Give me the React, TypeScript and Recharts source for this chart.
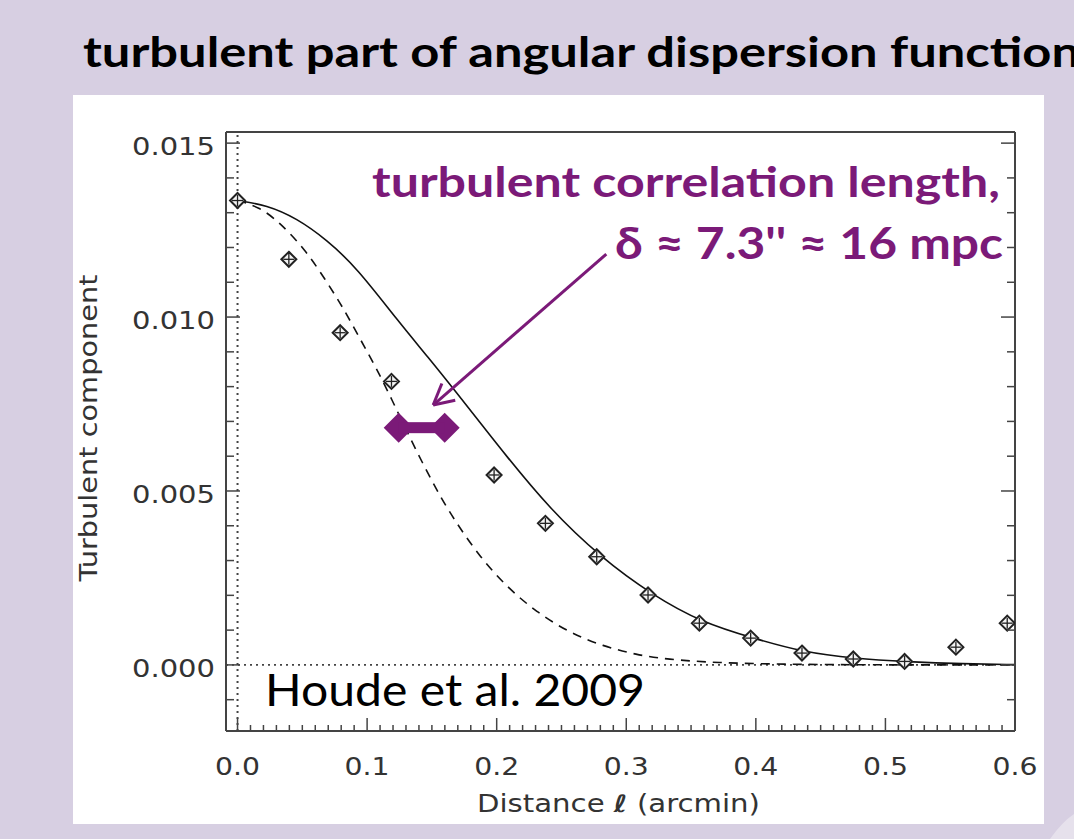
import React from "react";
import {
  ComposedChart,
  Line,
  Scatter,
  XAxis,
  YAxis,
  ReferenceLine,
  ReferenceDot,
} from "recharts";

// measured points (diamonds)
const pointX = [0, 0.0396, 0.0792, 0.1188, 0.198, 0.2376, 0.2772, 0.3168, 0.3564, 0.396, 0.4356, 0.4752, 0.5148, 0.5544, 0.594];
const pointY = [0.01335, 0.01166, 0.00955, 0.00815, 0.00546, 0.00407, 0.00311, 0.00201, 0.0012, 0.00077, 0.00034, 0.00017, 0.0001, 0.00051, 0.0012];

// solid curve (fit)
const fitX = [0, 0.0225, 0.0457, 0.0689, 0.092, 0.124, 0.147, 0.17, 0.189, 0.205, 0.241, 0.28, 0.32, 0.359, 0.398, 0.436, 0.476, 0.517, 0.56, 0.6];
const fitY = [0.01335, 0.01322, 0.01284, 0.01222, 0.01142, 0.00988, 0.00885, 0.00778, 0.00688, 0.00612, 0.00448, 0.0031, 0.00201, 0.00121, 0.00077, 0.00037, 0.00018, 0.00009, 0.00003, 0.00001];

// dashed curve (beam)
const beamX = [0, 0.0165, 0.032, 0.0525, 0.068, 0.081, 0.0937, 0.1066, 0.1194, 0.132, 0.1533, 0.169, 0.187, 0.2075, 0.2306, 0.2564, 0.282, 0.308, 0.331, 0.37, 0.42, 0.48, 0.6];
const beamY = [0.01335, 0.01317, 0.01274, 0.01193, 0.01106, 0.0103, 0.00943, 0.00857, 0.00761, 0.0066, 0.00503, 0.00407, 0.00311, 0.00225, 0.00152, 0.00092, 0.00054, 0.00029, 0.00016, 0.00006, 0.00002, 0, 0];

const xMajorTicks = [0, 0.1, 0.2, 0.3, 0.4, 0.5, 0.6];
const xTickLabels = ["0.0", "0.1", "0.2", "0.3", "0.4", "0.5", "0.6"];
const yMajorTicks = [0, 0.005, 0.01, 0.015];
const yTickLabels = ["0.000", "0.005", "0.010", "0.015"];

// minor tick positions
const xTicks = Array.from({ length: 61 }, (_, i) => i / 100);
const yTicks = Array.from({ length: 17 }, (_, i) => (i - 1) / 1000);

const points = pointX.map((x, i) => ({ x, y: pointY[i] }));
const fit = fitX.map((x, i) => ({ x, y: fitY[i] }));
const beam = beamX.map((x, i) => ({ x, y: beamY[i] }));

const FRAME = "#444";
const INK = "#111";
const PURPLE = "#7b1a78";
const LAVENDER = "#d7cfe2";
const TICK_FONT = "'DejaVu Sans', sans-serif";
const SLIDE_FONT = "Lato, 'Open Sans', sans-serif";

const majorIndex = (list: number[], v: number) =>
  list.findIndex((m) => Math.abs(m - v) < 1e-9);

const BottomTick = (p: any) => {
  const idx = majorIndex(xMajorTicks, p.payload.value);
  const len = idx >= 0 ? 13 : 6;
  return (
    <g>
      <line x1={p.x} x2={p.x} y1={p.y} y2={p.y - len} stroke={FRAME} strokeWidth={1.5} />
      {idx >= 0 && (
        <text x={p.x} y={p.y + 44} textAnchor="middle" fontFamily={TICK_FONT} fontSize={24} fill="#333" textLength={45} lengthAdjust="spacingAndGlyphs">
          {xTickLabels[idx]}
        </text>
      )}
    </g>
  );
};

const TopTick = (p: any) => {
  const idx = majorIndex(xMajorTicks, p.payload.value);
  const len = idx >= 0 ? 13 : 6;
  return <line x1={p.x} x2={p.x} y1={p.y} y2={p.y + len} stroke={FRAME} strokeWidth={1.5} />;
};

const LeftTick = (p: any) => {
  const idx = majorIndex(yMajorTicks, p.payload.value);
  const len = idx >= 0 ? 14 : 8;
  return (
    <g>
      <line x1={p.x} x2={p.x + len} y1={p.y} y2={p.y} stroke={FRAME} strokeWidth={1.5} />
      {idx >= 0 && (
        <text x={p.x - 11} y={p.y + 12} textAnchor="end" fontFamily={TICK_FONT} fontSize={24} fill="#333" textLength={83} lengthAdjust="spacingAndGlyphs">
          {yTickLabels[idx]}
        </text>
      )}
    </g>
  );
};

const RightTick = (p: any) => {
  const idx = majorIndex(yMajorTicks, p.payload.value);
  const len = idx >= 0 ? 14 : 8;
  return <line x1={p.x} x2={p.x - len} y1={p.y} y2={p.y} stroke={FRAME} strokeWidth={1.5} />;
};

const DiamondPlus = (p: any) => {
  const { cx, cy } = p;
  const r = 7.5;
  return (
    <g>
      <polygon
        points={`${cx},${cy - r} ${cx + r},${cy} ${cx},${cy + r} ${cx - r},${cy}`}
        fill="#f4f4f4"
        stroke="#222"
        strokeWidth={2}
      />
      <line x1={cx - r + 2} x2={cx + r - 2} y1={cy} y2={cy} stroke="#222" strokeWidth={1.3} />
      <line x1={cx} x2={cx} y1={cy - r + 2} y2={cy + r - 2} stroke="#222" strokeWidth={1.3} />
    </g>
  );
};

// purple "double diamond" marking the correlation length
const LengthMarker = (p: any) => {
  const { cx, cy } = p;
  const d = 23;
  const r = 15;
  return (
    <g fill={PURPLE}>
      <polygon points={`${cx - d},${cy - r} ${cx - d + r},${cy} ${cx - d},${cy + r} ${cx - d - r},${cy}`} />
      <polygon points={`${cx + d},${cy - r} ${cx + d + r},${cy} ${cx + d},${cy + r} ${cx + d - r},${cy}`} />
      <rect x={cx - d} y={cy - 5.5} width={2 * d} height={11} />
    </g>
  );
};

const App: React.FC = (): JSX.Element => {
  return (
    <div
      style={{
        position: "absolute",
        left: 0,
        top: 0,
        width: 1074,
        height: 839,
        overflow: "hidden",
        background: LAVENDER,
      }}
    >
      {/* panel */}
      <div style={{ position: "absolute", left: 73, top: 95, width: 971, height: 729, background: "#fff" }} />

      {/* chart */}
      <div style={{ position: "absolute", left: 0, top: 0 }}>
        <ComposedChart
          width={1074}
          height={839}
          margin={{ top: 131, right: 58, bottom: 107, left: 225 }}
        >
          <XAxis
            dataKey="x"
            type="number"
            domain={[-0.0089, 0.6]}
            ticks={xTicks}
            interval={0}
            height={1}
            tickSize={0}
            tickMargin={0}
            tickLine={false}
            axisLine={{ stroke: FRAME, strokeWidth: 2 }}
            tick={(p: any) => <BottomTick {...p} />}
            allowDataOverflow
          />
          <XAxis
            xAxisId="top"
            orientation="top"
            type="number"
            domain={[-0.0089, 0.6]}
            ticks={xTicks}
            interval={0}
            height={1}
            tickSize={0}
            tickMargin={0}
            tickLine={false}
            axisLine={{ stroke: FRAME, strokeWidth: 2 }}
            tick={(p: any) => <TopTick {...p} />}
            allowDataOverflow
          />
          <YAxis
            type="number"
            domain={[-0.0019, 0.01532]}
            ticks={yTicks}
            interval={0}
            width={1}
            tickSize={0}
            tickMargin={0}
            tickLine={false}
            axisLine={{ stroke: FRAME, strokeWidth: 2 }}
            tick={(p: any) => <LeftTick {...p} />}
            allowDataOverflow
          />
          <YAxis
            yAxisId="right"
            orientation="right"
            type="number"
            domain={[-0.0019, 0.01532]}
            ticks={yTicks}
            interval={0}
            width={1}
            tickSize={0}
            tickMargin={0}
            tickLine={false}
            axisLine={{ stroke: FRAME, strokeWidth: 2 }}
            tick={(p: any) => <RightTick {...p} />}
            allowDataOverflow
          />

          {/* zero lines */}
          <ReferenceLine x={0} stroke="#444" strokeWidth={2} strokeDasharray="2 4" />
          <ReferenceLine y={0} stroke="#444" strokeWidth={1.6} strokeDasharray="2 4" />

          {/* curves */}
          <Line data={beam} dataKey="y" type="basis" stroke={INK} strokeWidth={1.6} strokeDasharray="9 7" dot={false} isAnimationActive={false} />
          <Line data={fit} dataKey="y" type="basis" stroke={INK} strokeWidth={1.6} dot={false} isAnimationActive={false} />
          <Scatter data={points} dataKey="y" shape={(p: any) => <DiamondPlus {...p} />} isAnimationActive={false} />

          {/* annotation arrow */}
          <ReferenceLine segment={[{ x: 0.2846, y: 0.01181 }, { x: 0.151, y: 0.00747 }]} stroke={PURPLE} strokeWidth={3} />
          <ReferenceLine segment={[{ x: 0.151, y: 0.00747 }, { x: 0.1577, y: 0.00809 }]} stroke={PURPLE} strokeWidth={3} />
          <ReferenceLine segment={[{ x: 0.151, y: 0.00747 }, { x: 0.168, y: 0.00761 }]} stroke={PURPLE} strokeWidth={3} />
          <ReferenceDot x={0.1421} y={0.00682} r={1} shape={(p: any) => <LengthMarker {...p} />} />
        </ComposedChart>
      </div>

      {/* texts */}
      <svg width={1074} height={839} style={{ position: "absolute", left: 0, top: 0, pointerEvents: "none" }}>
        <text x={83} y={67} fontFamily={SLIDE_FONT} fontWeight={700} fontSize={42} fill="#000" textLength={997} lengthAdjust="spacingAndGlyphs">
          turbulent part of  angular dispersion function
        </text>
        <text x={1000} y={197} textAnchor="end" fontFamily={SLIDE_FONT} fontWeight={700} fontSize={42} fill={PURPLE} textLength={628} lengthAdjust="spacingAndGlyphs">
          turbulent correlation length,
        </text>
        <text x={1003} y={259} textAnchor="end" fontFamily={SLIDE_FONT} fontWeight={700} fontSize={44} fill={PURPLE} textLength={388} lengthAdjust="spacingAndGlyphs">
          {"δ ≈ 7.3'' ≈ 16 mpc"}
        </text>
        <text x={265} y={706} fontFamily={SLIDE_FONT} fontSize={44} fill="#000" textLength={380} lengthAdjust="spacingAndGlyphs">
          Houde et al. 2009
        </text>
        <text x={477} y={812} fontFamily={TICK_FONT} fontSize={24} fill="#333" textLength={283} lengthAdjust="spacingAndGlyphs">
          Distance <tspan fontStyle="italic" fontWeight={700}>ℓ</tspan> (arcmin)
        </text>
        <text x={97} y={428} transform="rotate(-90 97 428)" textAnchor="middle" fontFamily={TICK_FONT} fontSize={24} fill="#333" textLength={307} lengthAdjust="spacingAndGlyphs">
          Turbulent component
        </text>
        {/* page curl */}
        <path d="M1050,839 Q1062,822 1074,814 L1074,839 Z" fill="#e6e1ec" />
      </svg>
    </div>
  );
};

export default App;
